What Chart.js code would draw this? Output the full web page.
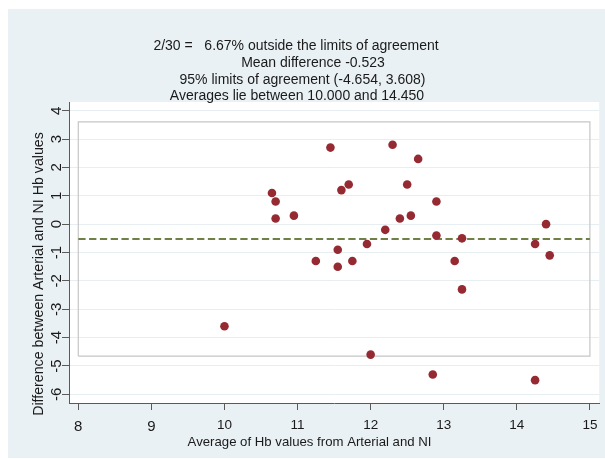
<!DOCTYPE html>
<html>
<head>
<meta charset="utf-8">
<title>Bland-Altman plot: arterial vs NI haemoglobin</title>
<script src="https://cdn.jsdelivr.net/npm/chart.js@4/dist/chart.umd.min.js"></script>
<style>
  html, body { margin: 0; padding: 0; background: #ffffff; }
  #wrap { width: 605px; height: 459px; }
  canvas { display: block; }
</style>
</head>
<body>
<div id="wrap"><canvas id="c" width="605" height="459"></canvas></div>
<script>
// Average of the two Hb readings (x) and their difference (y), one entry per subject
const avgHb  = [10.00, 10.65, 10.70, 10.70, 10.95, 11.25, 11.45, 11.55, 11.55, 11.60,
                11.70, 11.75, 11.95, 12.00, 12.20, 12.30, 12.40, 12.50, 12.55, 12.65,
                12.85, 12.90, 12.90, 13.15, 13.25, 13.25, 14.25, 14.25, 14.40, 14.45];
const diffHb = [-3.6,  1.1,  0.8,  0.2,  0.3, -1.3,  2.7, -0.9, -1.5,  1.2,
                 1.4, -1.3, -0.7, -4.6, -0.2,  2.8,  0.2,  1.4,  0.3,  2.3,
                -5.3,  0.8, -0.4, -1.3, -0.5, -2.3, -0.7, -5.5,  0.0, -1.1];

// Summary statistics
const meanDiff = -0.523;
const limitsOfAgreement = [-4.654, 3.608];
const boxRangeX = [8, 15];

// Axis ticks
const xTicks = [8, 9, 10, 11, 12, 13, 14, 15];
const yTicks = [-6, -5, -4, -3, -2, -1, 0, 1, 2, 3, 4];

// Header and axis titles
const titleLines = [
  '2/30 =   6.67% outside the limits of agreement',
  'Mean difference -0.523',
  '95% limits of agreement (-4.654, 3.608)',
  'Averages lie between 10.000 and 14.450'
];
const xTitle = 'Average of Hb values from Arterial and NI';
const yTitle = 'Difference between Arterial and NI Hb values';

const FONT = '"Liberation Sans", Arial, Helvetica, sans-serif';
const TEXT = '#1a1a1a';

const points = avgHb.map((x, i) => ({ x: x, y: diffHb[i] }));
const [lo, hi] = limitsOfAgreement;
const [bx0, bx1] = boxRangeX;
const boxOutline = [
  { x: bx0, y: lo }, { x: bx1, y: lo }, { x: bx1, y: hi }, { x: bx0, y: hi }, { x: bx0, y: lo }
];
const meanLine = [{ x: bx0, y: meanDiff }, { x: bx1, y: meanDiff }];

// Page background, outer panel and white plot region
const backdrop = {
  id: 'backdrop',
  beforeDraw(chart) {
    const { ctx, chartArea: a, width, height } = chart;
    ctx.save();
    ctx.fillStyle = '#ffffff';
    ctx.fillRect(0, 0, width, height);
    ctx.fillStyle = '#e9f1f4';
    ctx.fillRect(8, 9, width - 8, height - 10);
    ctx.fillStyle = '#ffffff';
    ctx.fillRect(a.left, a.top, a.right - a.left, a.bottom - a.top);
    ctx.restore();
  }
};

// Header lines, rotated y tick labels and axis titles
const annotations = {
  id: 'annotations',
  afterDraw(chart) {
    const { ctx } = chart;
    const ys = chart.scales.y;
    ctx.save();
    ctx.fillStyle = TEXT;

    // header
    ctx.font = '14px ' + FONT;
    ctx.textAlign = 'center';
    ctx.textBaseline = 'alphabetic';
    const cx = [296, 313, 302.5, 297];
    const by = [49.8, 67, 84, 99.5];
    titleLines.forEach((t, i) => ctx.fillText(t, cx[i], by[i]));

    // y tick labels, reading upward
    ctx.font = '15px ' + FONT;
    yTicks.forEach(v => {
      const p = ys.getPixelForValue(v);
      ctx.save();
      ctx.translate(61, p);
      ctx.rotate(-Math.PI / 2);
      ctx.textAlign = 'center';
      ctx.fillText(String(v), 0, 0);
      ctx.restore();
    });

    // y title
    ctx.font = '14.2px ' + FONT;
    ctx.save();
    ctx.translate(43, 274);
    ctx.rotate(-Math.PI / 2);
    ctx.textAlign = 'center';
    ctx.fillText(yTitle, 0, 0);
    ctx.restore();

    // x title
    ctx.font = '13.2px ' + FONT;
    ctx.textAlign = 'center';
    ctx.fillText(xTitle, 309.5, 446);
    ctx.restore();
  }
};

new Chart(document.getElementById('c'), {
  type: 'scatter',
  data: {
    datasets: [
      {
        label: 'Difference',
        data: points,
        backgroundColor: '#962a32',
        borderColor: '#962a32',
        pointRadius: 4.3,
        pointHoverRadius: 4.3,
        borderWidth: 0
      },
      {
        label: 'Mean difference',
        data: meanLine,
        showLine: true,
        borderColor: '#6f7f45',
        borderWidth: 1.8,
        borderDash: [7.3, 3.5],
        pointRadius: 0,
        fill: false
      },
      {
        label: 'Limits of agreement',
        data: boxOutline,
        showLine: true,
        borderColor: '#c6c6c6',
        borderWidth: 1.2,
        pointRadius: 0,
        fill: false,
        tension: 0
      }
    ]
  },
  options: {
    responsive: false,
    animation: false,
    devicePixelRatio: 1,
    layout: { padding: { left: 0, top: 102, right: 5, bottom: 0 } },
    plugins: {
      legend: { display: false },
      title: { display: false },
      tooltip: { enabled: false }
    },
    events: [],
    scales: {
      x: {
        type: 'linear',
        min: 7.873,
        max: 15.127,
        afterBuildTicks(scale) { scale.ticks = xTicks.map(v => ({ value: v })); },
        afterFit(scale) { scale.height = 56; },
        ticks: {
          color: TEXT,
          padding: 7.5,
          maxRotation: 0,
          autoSkip: false,
          font: (c) => ({ family: FONT, size: (c.tick && c.tick.value < 10) ? 15 : 13.5 }),
          callback: (v) => String(v)
        },
        grid: {
          drawOnChartArea: false,
          drawTicks: true,
          tickLength: 7,
          tickColor: '#5a5a5a',
          lineWidth: 1
        },
        border: { display: true, color: '#5a5a5a', width: 1 }
      },
      y: {
        type: 'linear',
        min: -6.306,
        max: 4.307,
        afterBuildTicks(scale) { scale.ticks = yTicks.map(v => ({ value: v })); },
        afterFit(scale) { scale.width = 69; },
        ticks: { display: false },
        grid: {
          drawOnChartArea: true,
          color: '#e6eef2',
          lineWidth: 1,
          drawTicks: true,
          tickLength: 7,
          tickColor: '#5a5a5a'
        },
        border: { display: true, color: '#5a5a5a', width: 1 }
      }
    }
  },
  plugins: [backdrop, annotations]
});
</script>
</body>
</html>
